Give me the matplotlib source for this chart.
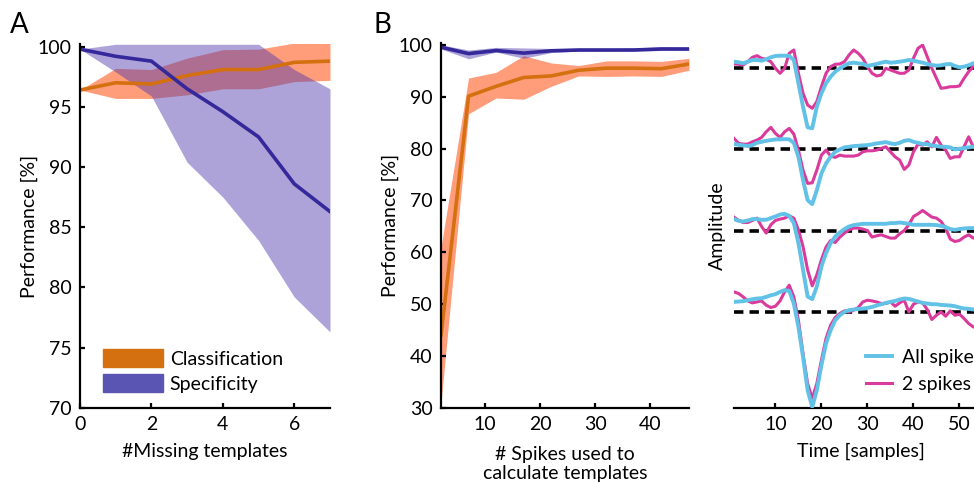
import matplotlib.pyplot as plt
import numpy as np

plt.rcParams['font.family'] = ['Lato', 'DejaVu Sans']
plt.rcParams['font.size'] = 14

# --- panel A: performance vs number of missing templates
missing = [0, 1, 2, 3, 4, 5, 6, 7]
class_mean = [96.4, 97.0, 96.9, 97.6, 98.1, 98.1, 98.7, 98.8]
class_hi = [96.4, 98.2, 98.1, 99.05, 99.75, 99.8, 100.3, 100.35]
class_lo = [96.4, 95.7, 95.7, 96.0, 96.5, 96.5, 97.1, 97.2]
spec_mean = [99.8, 99.2, 98.8, 96.5, 94.6, 92.5, 88.6, 86.3]
spec_hi = [99.8, 100.2, 100.2, 100.2, 100.2, 100.2, 98.1, 96.5]
spec_lo = [99.8, 97.9, 95.9, 90.4, 87.5, 83.9, 79.2, 76.3]

# --- panel B: performance vs number of spikes used for templates
n_spikes = [2, 7, 12, 17, 22, 27, 32, 37, 42, 47]
b_class_mean = [44.0, 90.1, 92.0, 93.7, 94.0, 95.1, 95.5, 95.5, 95.4, 96.3]
b_class_hi = [61.0, 93.6, 94.7, 97.9, 96.5, 96.0, 96.9, 96.9, 96.8, 97.4]
b_class_lo = [31.0, 86.7, 89.75, 89.5, 92.0, 94.0, 93.9, 94.0, 93.9, 95.1]
b_spec_mean = [99.55, 98.3, 98.9, 98.4, 98.85, 99.0, 99.0, 99.0, 99.2, 99.2]
b_spec_hi = [100.0, 99.0, 99.5, 99.4, 99.3, 99.3, 99.3, 99.4, 99.6, 99.5]
b_spec_lo = [99.2, 97.3, 98.6, 97.4, 98.5, 98.8, 98.8, 98.8, 98.9, 98.9]

# --- panel C: templates, all spikes vs 2 spikes (amplitude above baseline)
samples = np.arange(1, 55)
all1 = [6, 5.4, 4.4, 6, 7.7, 7.7, 7, 8.4, 10.4, 11.7, 12, 12, 11.7, 7.7, -15.6, -39, -59.6, -60.6,
        -39, -25.6, -15.6, -9, -4, -0.6, 2, 4.4, 5, 4.4, 3.7, 1.7, 2.7, 3.7, 5, 6, 5, 5.4, 6, 6.7,
        7.7, 7, 6, 5, 3.7, 2.7, 2, 2.4, 3.4, 3.7, 1.7, 0.4, 1, 2.4, 4.4, 5]
two1 = [3.7, 3.4, 2.7, 6, 10.4, 12, 9.4, 8.4, 6, -0.6, -5.6, -0.6, 14.4, 17.7, -5.6, -25.6, -37.3, -40.6,
        -34, -19, -5.6, 1, 3.4, 3.7, 6, 12.7, 17.7, 14.4, 9.4, 1, -5.6, -8.3, -7.3, -0.6, -2.3, -4, -5.6, -5.6,
        -2.3, 9.4, 19.4, 22.7, 11, -0.6, -10.6, -20.6, -20, -19, -19, -18.3, -10.6, -4, 1, 3]
all2 = [5, 4.3, 3.7, 3, 4, 6.3, 7.3, 8.3, 9, 9.7, 9.7, 10, 9.7, 6.3, -7.7, -31, -51, -55,
        -41, -24.3, -14.3, -7.7, -2.7, -0.3, 1.7, 2.3, 3, 3.3, 3.7, 4, 4.7, 5.7, 6.3, 7, 5.7, 5, 6.3, 8.3,
        9, 7.3, 6.3, 5, 5, 3.7, 3, 2.3, 2.3, 1.7, -0.3, 0.3, 1, 1.7, 2.3, 2.5]
two2 = [10.7, 5.7, 5, 5, 7.3, 9, 11.7, 17.3, 21.7, 15.7, 11.7, 17.3, 20.7, 15, -1, -21, -34.3, -33.7,
        -21, -6, -1, -7, -8.3, -6, -7, -7, -7, -6, -2.7, -1.7, -1.7, -1, 0.7, 2.3, -2.7, -7.7, -11, -20.3,
        -16, -2.7, 5, 4, 7.3, 2.3, 11.7, 4, -1, -9.3, -7.7, -7.7, 2.3, 12.3, 2.3, 0]
all3 = [11.4, 9.7, 9, 10, 11.4, 11.4, 10.7, 10.7, 12.4, 14, 16, 16.7, 14.7, 7.4, -12.6, -39.3, -66, -68.6,
        -56, -36, -22.6, -12.6, -6, -2, 1.4, 4, 5.4, 6, 6.7, 6.7, 6.7, 6.7, 6.7, 6.7, 7.4, 7.4, 8, 7.4,
        6.7, 5.7, 5.7, 5.7, 5.7, 5.7, 5.4, 4.7, 3.4, 1.4, 0.7, 1.4, 2, 2.4, 2.4, 2.4]
two3 = [13.4, 10, 8, 8, 10, 12.4, 4, -2.6, 5.7, 10, 11.4, 12.4, 14.7, 12.4, 0.7, -16, -39.3, -55.3,
        -44.3, -29.3, -16.6, -10, -12, -6.6, -2.6, 0.7, 2.4, 2.4, 1.4, 0, -6.6, -5.3, -4.3, -6, -7.6, -7.6, -3.3, 0,
        5.7, 14, 16.7, 20, 16.7, 13.4, 12.4, 9, 2.4, -8.6, -11, -10, -6.6, -4.3, -7.6, -6]
all4 = [10, 10.4, 10.7, 11.7, 12.7, 13.4, 13.7, 15, 16.7, 17.7, 20, 21.7, 21, 8.4, -15, -45, -78.3, -95,
        -78.3, -53.3, -31.6, -18.3, -8.3, -3.3, 0, 1.7, 2.4, 3, 3.4, 4, 5, 6.4, 7.7, 9, 10, 11, 12.4, 13.4,
        13, 11.7, 10.4, 9, 8.4, 7.7, 7.7, 7, 6.7, 6.4, 5.7, 4.4, 3.4, 3, 2.4, 2.2]
two4 = [20, 18.4, 15, 11, 9, 10, 11, 6.7, 4.4, 5.7, 11, 20, 26.7, 15, -8.3, -41.6, -71.6, -86.6,
        -71.6, -48.3, -26.6, -13.3, -5.6, -1.6, 1, 0, 1.7, 4.4, 10, 11.7, 11, 10, 8.4, 8.4, 10, 5.7, 9, 11.7,
        0, 7.7, 10, 9, 2.4, -7.6, -3.3, 0, -4.3, 1, -3.3, -2.3, -6.6, -11.6, -15, -16]
all_traces = [all1, all2, all3, all4]
two_traces = [two1, two2, two3, two4]

c_orange = '#d4700f'
c_indigo = '#34289a'
band_orange = (1.0, 0.3, 0.05)
band_blue = (0.3, 0.22, 0.68)
c_sky = '#62c1e6'
c_magenta = '#d93a9b'

fig = plt.figure(figsize=(9.74, 4.84), dpi=100)


def style_axes(ax):
    for s in ['top', 'right']:
        ax.spines[s].set_visible(False)
    for s in ['left', 'bottom']:
        ax.spines[s].set_linewidth(1.6)
    ax.tick_params(direction='in', length=3.5, width=1.6, pad=6)


# A
axA = fig.add_axes([0.0821, 0.1576, 0.2567, 0.7509])
axA.fill_between(missing, class_lo, class_hi, color=band_orange, alpha=0.55, lw=0)
axA.fill_between(missing, spec_lo, spec_hi, color=band_blue, alpha=0.46, lw=0)
axA.plot(missing, class_mean, color=c_orange, lw=2.6)
axA.plot(missing, spec_mean, color=c_indigo, lw=2.6)
axA.set_xlim(0, 7)
axA.set_ylim(70, 100.2)
axA.set_xticks([0, 2, 4, 6])
axA.set_yticks([70, 75, 80, 85, 90, 95, 100])
axA.set_xlabel('#Missing templates', labelpad=7)
axA.set_ylabel('Performance [%]', labelpad=0)
style_axes(axA)
hA = [plt.Rectangle((0, 0), 1, 1, color=c_orange), plt.Rectangle((0, 0), 1, 1, color='#5a55b3')]
axA.legend(hA, ['Classification', 'Specificity'], loc='lower left', bbox_to_anchor=(0.06, 0.02),
           frameon=False, handlelength=3.1, handleheight=1.0, handletextpad=0.35, labelspacing=0.35,
           borderaxespad=0)

# B
axB = fig.add_axes([0.4528, 0.1576, 0.2546, 0.753])
axB.fill_between(n_spikes, b_class_lo, b_class_hi, color=band_orange, alpha=0.55, lw=0)
axB.fill_between(n_spikes, b_spec_lo, b_spec_hi, color=band_blue, alpha=0.46, lw=0)
axB.plot(n_spikes, b_class_mean, color=c_orange, lw=2.6)
axB.plot(n_spikes, b_spec_mean, color=c_indigo, lw=2.6)
axB.set_xlim(2, 47)
axB.set_ylim(30, 100.3)
axB.set_xticks([10, 20, 30, 40])
axB.set_yticks([30, 40, 50, 60, 70, 80, 90, 100])
axB.set_xlabel('# Spikes used to\ncalculate templates', labelpad=9, linespacing=1.15)
axB.set_ylabel('Performance [%]', labelpad=0)
style_axes(axB)

# C
gap = 81.4
axC = fig.add_axes([0.7536, 0.1576, 0.2598, 0.7509])
for i in range(4):
    off = -gap * i
    axC.axhline(off, color='black', lw=2.6, ls=(0, (2.6, 1.7)), zorder=1)
    axC.plot(samples, np.array(two_traces[i]) + off, color=c_magenta, lw=2.2, zorder=2,
             label='2 spikes' if i == 0 else None)
    axC.plot(samples, np.array(all_traces[i]) + off, color=c_sky, lw=2.8, zorder=3,
             label='All spikes' if i == 0 else None)
axC.set_xlim(1, 56)
axC.set_ylim(-340, 23.4)
axC.set_xticks([10, 20, 30, 40, 50])
axC.set_yticks([])
axC.spines['left'].set_visible(False)
axC.set_xlabel('Time [samples]', labelpad=7)
axC.set_ylabel('Amplitude', labelpad=6)
style_axes(axC)
h, l = axC.get_legend_handles_labels()
axC.legend([h[1], h[0]], [l[1], l[0]], loc='lower left', bbox_to_anchor=(0.49, 0.02), frameon=False,
           handlelength=1.35, handletextpad=0.5, labelspacing=0.5, borderaxespad=0)

fig.text(10 / 974, 1 - 25 / 484, 'A', fontsize=20, va='center', ha='left')
fig.text(374 / 974, 1 - 25 / 484, 'B', fontsize=20, va='center', ha='left')

fig.savefig('out.png', dpi=100)
